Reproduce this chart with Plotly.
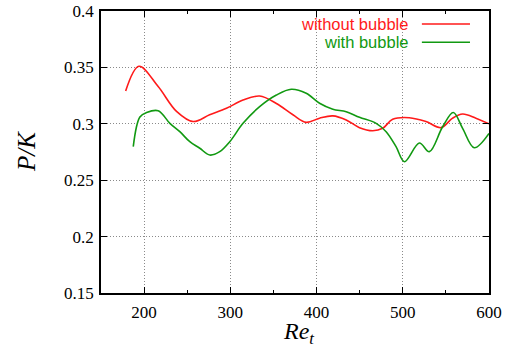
import plotly.graph_objects as go

# without bubble (red)
re_without = [178.6, 194, 216.3, 237.6, 256.9, 276, 295.5, 314.7, 334, 353.4, 372.6, 388,
              403.5, 418.9, 434.4, 449.8, 465.2, 476.7, 488.3, 507.6, 526.9, 544.3, 557.8,
              569.4, 584.8, 600]
pk_without = [0.329, 0.351, 0.333, 0.311, 0.302, 0.308, 0.3137, 0.321, 0.3246, 0.318, 0.308, 0.3013,
              0.305, 0.307, 0.3034, 0.2966, 0.2939, 0.296, 0.304, 0.3054, 0.302, 0.2966, 0.305,
              0.3087, 0.305, 0.300]

# with bubble (green)
re_with = [187.4, 195.1, 202.9, 216.3, 229.9, 241.4, 253, 264.6, 276.2, 287.7, 299.3, 314.7,
           334, 353.4, 370.7, 388, 403.5, 418.9, 434.4, 449.8, 469.1, 480.7, 492.2, 501.9,
           519.2, 530.8, 546.2, 558.6, 569.4, 582.9, 600]
pk_with = [0.2797, 0.306, 0.310, 0.3116, 0.3004, 0.293, 0.2841, 0.2783, 0.2723, 0.2753, 0.2841, 0.3004,
           0.3152, 0.3255, 0.3306, 0.327, 0.3182, 0.3129, 0.3107, 0.3058, 0.3004, 0.293, 0.2797, 0.2664,
           0.2830, 0.2753, 0.2974, 0.310, 0.296, 0.2788, 0.2915]

x_ticks = [200, 300, 400, 500, 600]
x_ticklabels = ["200", "300", "400", "500", "600"]
y_ticks = [0.15, 0.2, 0.25, 0.3, 0.35, 0.4]
y_ticklabels = ["0.15", "0.2", "0.25", "0.3", "0.35", "0.4"]

RED = "#ff1a1a"
GREEN = "#119911"

fig = go.Figure()
fig.add_trace(go.Scatter(x=re_without, y=pk_without, mode="lines", name="without bubble",
                         line=dict(color=RED, width=1.6, shape="spline", smoothing=1.0)))
fig.add_trace(go.Scatter(x=re_with, y=pk_with, mode="lines", name="with bubble",
                         line=dict(color=GREEN, width=1.6, shape="spline", smoothing=1.0)))

serif = "Liberation Serif"
axis_common = dict(
    showline=True, linecolor="black", linewidth=1.5, mirror="ticks", automargin=False,
    ticks="inside", ticklen=6, tickcolor="black", tickwidth=1,
    showgrid=True, gridcolor="#8a8a8a", griddash="1px,2px", gridwidth=1,
    zeroline=False, tickfont=dict(family=serif, size=17, color="black"),
)

fig.update_xaxes(range=[150, 600], tickmode="array", tickvals=x_ticks, ticktext=x_ticklabels,
                 ticklabelstandoff=3,
                 minor=dict(ticks="inside", dtick=50, tick0=150, ticklen=3, tickcolor="black", showgrid=False),
                 **axis_common)
fig.update_yaxes(range=[0.15, 0.4], tickmode="array", tickvals=y_ticks, ticktext=y_ticklabels,
                 ticklabelstandoff=2, **axis_common)

# axis titles
fig.add_annotation(text="<i>Re</i><sub><i>t</i></sub>", xref="paper", yref="paper", x=0.508, y=0,
                   xanchor="center", yanchor="top", yshift=-23, showarrow=False,
                   font=dict(family=serif, size=24, color="black"))
fig.add_annotation(text="<i>P/K</i>", xref="paper", yref="paper", x=0, y=0.5, textangle=-90,
                   xanchor="center", yanchor="middle", xshift=-75, showarrow=False,
                   font=dict(family=serif, size=25, color="black"))

# key: opaque box masking the grid, right-aligned labels followed by line samples
fig.add_shape(type="rect", xref="paper", yref="paper", x0=0.27, x1=1.0, y0=0.86, y1=1.0,
              fillcolor="white", line=dict(width=0), layer="between")
sans = "Liberation Sans"
legend_items = [("without bubble", RED, 0.954), ("with bubble", GREEN, 0.889)]
for label, col, yy in legend_items:
    fig.add_annotation(text=label, xref="paper", yref="paper", x=0.797, y=yy, xanchor="right",
                       yanchor="middle", showarrow=False, font=dict(family=sans, size=16.5, color=col))
    fig.add_shape(type="line", xref="paper", yref="paper", x0=0.827, x1=0.951, y0=yy, y1=yy,
                  line=dict(color=col, width=1.6))

fig.update_layout(width=512, height=354, margin=dict(l=101, r=23, t=11, b=61),
                  font=dict(family=serif, size=17, color="black"),
                  plot_bgcolor="white", paper_bgcolor="white", showlegend=False)

fig.write_html("out.html")
